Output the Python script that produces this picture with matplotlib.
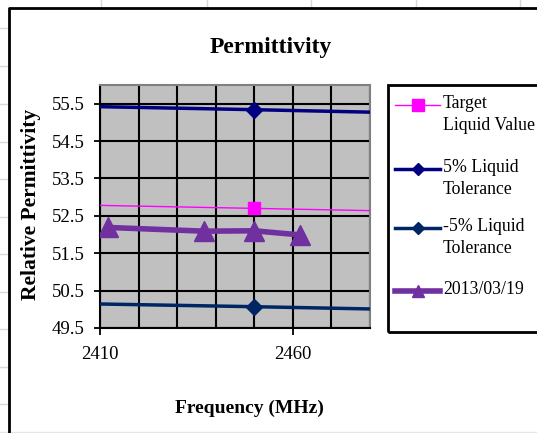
import matplotlib.pyplot as plt
from matplotlib.lines import Line2D
from matplotlib.patches import Rectangle
import numpy as np

# Data
target_freq = [2400, 2450, 2500]
target_val = [52.80, 52.70, 52.60]
upper_val = [55.44, 55.34, 55.23]
lower_val = [50.16, 50.07, 49.97]

meas_freq = [2412, 2437, 2450, 2462]
meas_val = [52.19, 52.09, 52.10, 51.99]

series_labels = ["Target\nLiquid Value", "5% Liquid\nTolerance", "-5% Liquid\nTolerance", "2013/03/19"]

W, H = 537, 433
fig = plt.figure(figsize=(W / 100, H / 100), dpi=100)
plt.rcParams['font.family'] = ['Liberation Serif', 'DejaVu Serif']

def fx(px):
    return px / W

def fy(py):
    return 1 - py / H

# Excel cell gridlines behind the chart object
for x in [101, 207, 311, 416, 520]:
    fig.add_artist(Line2D([fx(x), fx(x)], [fy(0), fy(8)], color='#d9d9d9', lw=1))
for y in [28, 66, 104, 142, 179, 217, 254, 292, 329, 367, 404]:
    fig.add_artist(Line2D([fx(0), fx(8)], [fy(y), fy(y)], color='#d9d9d9', lw=1))
fig.add_artist(Line2D([fx(0), fx(W)], [fy(432), fy(432)], color='#e6e6e6', lw=1))

# Chart frame (runs off the right and bottom edges)
fig.add_artist(Line2D([fx(8.5), fx(8.5), fx(W + 5)], [fy(H + 5), fy(7.5), fy(7.5)],
                      color='black', lw=2))

ax = fig.add_axes([fx(100), fy(328), fx(369.5) - fx(100), fy(85) - fy(328)])
ax.set_facecolor('#c0c0c0')

ax.plot(target_freq, target_val, color='#ff00ff', lw=1, marker='s', ms=9,
        mec='#ff00ff', mfc='#ff00ff', zorder=3)
ax.plot(target_freq, upper_val, color='#000080', lw=2.5, marker='D', ms=8,
        mec='#000080', mfc='#000080', zorder=3)
ax.plot(target_freq, lower_val, color='#002565', lw=2.5, marker='D', ms=8,
        mec='#002565', mfc='#002565', zorder=3)
ax.plot(meas_freq, meas_val, color='#7030a0', lw=4, marker='^', ms=14,
        mec='#7030a0', mfc='#7030a0', zorder=4)

ax.set_xlim(2410, 2480)
ax.set_ylim(49.5, 56.0)
ax.set_xticks([2410, 2460])
ax.set_xticks(np.arange(2410, 2481, 10), minor=True)
ax.set_yticks(np.arange(49.5, 55.6, 1.0))
ax.set_yticklabels([f"{v:.1f}" for v in np.arange(49.5, 55.6, 1.0)])
ax.grid(True, which='both', color='black', lw=1.5)
ax.set_axisbelow(True)
ax.tick_params(axis='both', which='major', labelsize=13.5, color='black',
               length=5, width=1.3, direction='out')
ax.tick_params(axis='y', which='major', direction='inout', length=8)
ax.tick_params(axis='x', which='minor', length=0)
ax.tick_params(axis='y', pad=7)
ax.tick_params(axis='x', pad=8)
for s in ['top', 'right']:
    ax.spines[s].set_color('#808080')
    ax.spines[s].set_linewidth(1.5)
for s in ['left', 'bottom']:
    ax.spines[s].set_color('black')
    ax.spines[s].set_linewidth(1.5)

fig.text(fx(271), fy(48), "Permittivity", ha='center', va='center',
         fontsize=17, fontweight='bold')
fig.text(fx(31), fy(204), "Relative Permittivity", ha='center', va='center',
         rotation=90, fontsize=15.5, fontweight='bold')
fig.text(fx(249), fy(408), "Frequency (MHz)", ha='center', va='center',
         fontsize=14, fontweight='bold')

# Legend box drawn in Excel style (handle beside first text line)
fig.add_artist(Rectangle((fx(387.5), fy(332)), fx(W + 10) - fx(387.5), fy(85) - fy(332),
                         transform=fig.transFigure, fill=False, ec='black', lw=2))
leg_y = [105, 169, 228, 291]
leg_style = [('#ff00ff', 1, 's', 8), ('#000080', 2.5, 'D', 6),
             ('#002565', 2.5, 'D', 6), ('#7030a0', 4, '^', 8)]
for y, lab, (c, lw, m, ms) in zip(leg_y, series_labels, leg_style):
    fig.add_artist(Line2D([fx(395), fx(440)], [fy(y), fy(y)], color=c, lw=lw))
    fig.add_artist(Line2D([fx(417.5)], [fy(y)], color=c, marker=m, ms=ms, mec=c, mfc=c))
    fig.text(fx(443), fy(y - 10), lab, ha='left', va='top', fontsize=12.8,
             linespacing=1.4)

fig.savefig("out.png", dpi=100)
